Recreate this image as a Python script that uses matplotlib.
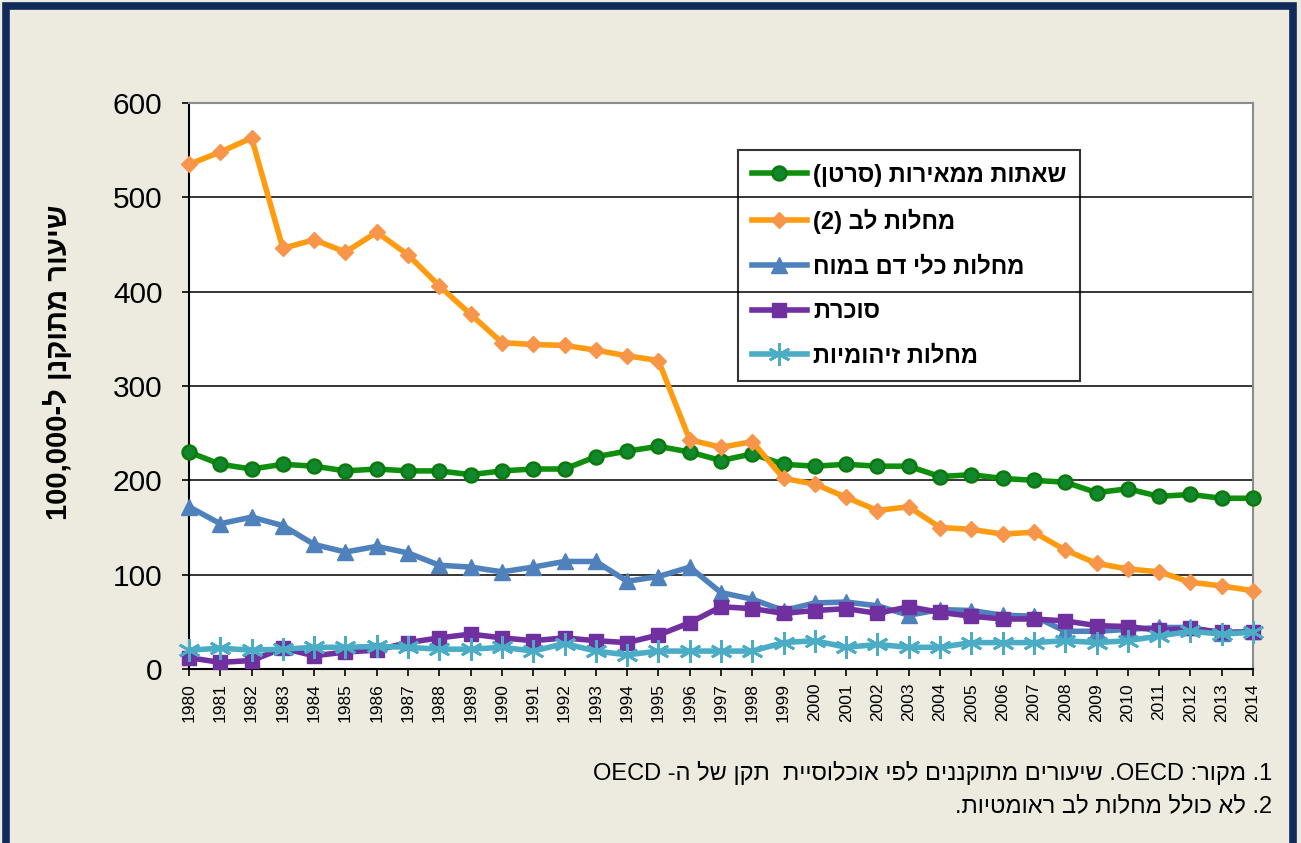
import re
import numpy as np
import matplotlib
matplotlib.use("Agg")
import matplotlib.pyplot as plt
from matplotlib.patches import Rectangle

plt.rcParams['font.family'] = ['Liberation Sans', 'DejaVu Sans']

# data (rate per 100,000)
years = list(range(1980, 2015))
cancer = [230, 217, 212, 217, 215, 210, 212, 210, 210, 206, 210, 212, 212, 225, 231,
          236, 230, 221, 228, 217, 215, 217, 215, 215, 204, 206, 202, 200, 198, 187,
          191, 183, 185, 181, 181]
heart = [535, 548, 563, 446, 455, 442, 463, 439, 406, 376, 346, 344, 343, 338, 332,
         327, 243, 235, 241, 202, 196, 182, 168, 172, 150, 148, 143, 145, 126, 112,
         106, 103, 92, 88, 83]
stroke = [172, 154, 161, 152, 132, 124, 130, 123, 110, 108, 103, 108, 114, 114, 93,
          98, 108, 81, 74, 62, 70, 71, 67, 57, 63, 62, 57, 56, 40, 40,
          42, 44, 44, 38, 40]
diabetes = [12, 7, 9, 22, 14, 18, 20, 28, 33, 37, 33, 30, 33, 30, 28,
            36, 49, 66, 64, 59, 62, 64, 59, 66, 60, 56, 53, 53, 51, 46,
            45, 41, 43, 39, 39]
infectious = [20, 22, 20, 21, 23, 23, 24, 23, 21, 21, 23, 19, 27, 19, 15,
              19, 19, 19, 19, 28, 30, 23, 26, 23, 23, 28, 28, 28, 30, 28,
              30, 35, 40, 37, 39]

labels = ["שאתות ממאירות (סרטן)", "מחלות לב (2)", "מחלות כלי דם במוח",
          "סוכרת", "מחלות זיהומיות"]
ylabel = "שיעור מתוקנן ל-100,000"
notes = ["1. מקור: OECD. שיעורים מתוקננים לפי אוכלוסיית  תקן של ה- OECD",
         "2. לא כולל מחלות לב ראומטיות."]


def heb(s):
    # crude visual ordering for right-to-left text
    s = s[::-1]
    s = re.sub(r'[A-Za-z0-9][A-Za-z0-9,.]*[A-Za-z0-9]|[A-Za-z0-9]',
               lambda m: m.group(0)[::-1], s)
    return s.translate(str.maketrans('()', ')('))


bg = '#EDEADF'
fig = plt.figure(figsize=(13.01, 8.43), dpi=100, facecolor=bg)
ax = fig.add_axes([189 / 1301, 1 - 669 / 843, (1253 - 189) / 1301, (669 - 103) / 843])
ax.set_facecolor('white')

x = np.arange(len(years))
lw = 4.0
ax.plot(x, cancer, color='#0E900E', lw=lw, marker='o', ms=10,
        mfc='#12872E', mec='#0A7A0A', mew=1.8, label=heb(labels[0]), zorder=3)
ax.plot(x, heart, color='#FF9B0F', lw=lw, marker='D', ms=8.5,
        mfc='#F7964A', mec='#F7964A', label=heb(labels[1]), zorder=4)
ax.plot(x, stroke, color='#4F81BD', lw=lw, marker='^', ms=11,
        mfc='#4F81BD', mec='#4F81BD', label=heb(labels[2]), zorder=5)
ax.plot(x, diabetes, color='#7030A0', lw=lw, marker='s', ms=10,
        mfc='#7030A0', mec='#7030A0', label=heb(labels[3]), zorder=6)
ax.plot(x, infectious, color='#4BACC6', lw=lw, marker=(6, 2, 0), ms=16,
        mec='#4BACC6', mew=2.0, label=heb(labels[4]), zorder=7)

ax.set_xlim(0, len(years) - 1)
ax.set_ylim(0, 600)
ax.set_yticks(range(0, 601, 100))
ax.set_xticks(x)
ax.set_xticklabels([str(y) for y in years], rotation=90, fontsize=12.5)
ax.tick_params(axis='y', labelsize=21.5, length=5, width=1.2, pad=14, direction='out')
ax.tick_params(axis='x', length=5, width=1.2, pad=5, direction='out')
ax.yaxis.grid(True, color='black', lw=1.1)
ax.set_axisbelow(True)
for side in ['left', 'bottom']:
    ax.spines[side].set_color('black')
    ax.spines[side].set_linewidth(1.5)
for side in ['top', 'right']:
    ax.spines[side].set_color('#8C8C8C')
    ax.spines[side].set_linewidth(1.5)
for ln in ax.get_lines():
    ln.set_clip_on(False)

leg = ax.legend(loc='upper left', bbox_to_anchor=((738 - 189) / 1064, (669 - 150) / 566),
                prop={'weight': 'bold', 'size': 17}, frameon=True, fancybox=False,
                edgecolor='black', facecolor='none', framealpha=None,
                handlelength=2.35, handletextpad=0.25, labelspacing=0.92,
                borderpad=0.58, borderaxespad=0)
leg.get_frame().set_linewidth(1.5)

fig.text(58 / 1301, 1 - 362 / 843, heb(ylabel), rotation=90, ha='center',
         va='center', fontsize=21, fontweight='bold')

fig.text(1272 / 1301, 1 - 773 / 843, heb(notes[0]), ha='right', va='center', fontsize=17)
fig.text(1272 / 1301, 1 - 806 / 843, heb(notes[1]), ha='right', va='center', fontsize=17)

# navy frame around the figure
fig.patches.append(Rectangle((5.5 / 1301, -0.05), (1293 - 5.5) / 1301, 1.05 - 6.5 / 843,
                             transform=fig.transFigure, fill=False,
                             edgecolor='#102A5C', lw=5.5, zorder=10))

fig.savefig('out.png', dpi=100, facecolor=bg)
